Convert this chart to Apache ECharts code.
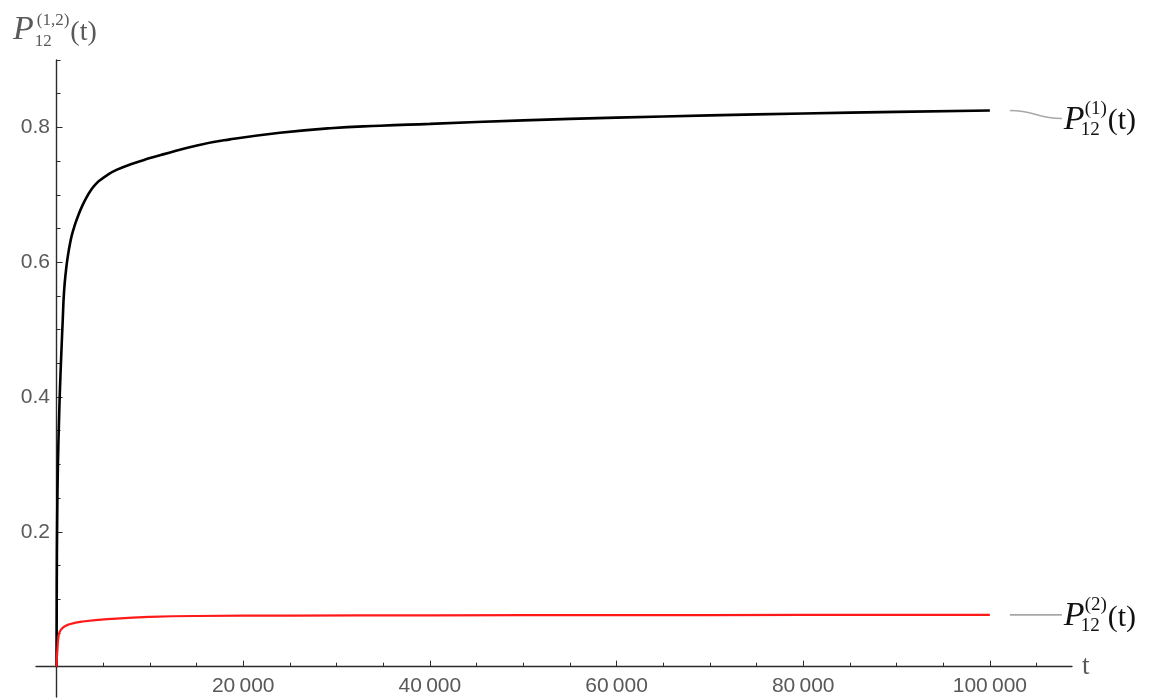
<!DOCTYPE html>
<html>
<head>
<meta charset="utf-8">
<title>P12 transition probabilities</title>
<script src="https://cdn.jsdelivr.net/npm/echarts@6/dist/echarts.min.js"></script>
<style>
  html, body { margin: 0; padding: 0; background: #ffffff; }
  #chart { width: 1155px; height: 698px; }
</style>
</head>
<body>
<div id="chart"></div>
<script>
// Sampled values of the two transition probabilities P12^(1)(t) and P12^(2)(t)
const t1 = [0, 25, 70, 150, 268, 375, 514, 664, 804, 1018, 1232, 1446, 1661, 1982, 2304, 2732, 3161, 3589, 4125, 4661, 5518, 6482, 7875, 10018, 11411, 15054, 18590, 23947, 29304, 34661, 40018, 50000, 60000, 70000, 80000, 90000, 100000];
const p1 = [0, 0.12, 0.22, 0.30, 0.366, 0.415, 0.465, 0.514, 0.5559, 0.5886, 0.6108, 0.6278, 0.6412, 0.6561, 0.6687, 0.6828, 0.6947, 0.7050, 0.7147, 0.7217, 0.7301, 0.7373, 0.7450, 0.7545, 0.7600, 0.7733, 0.7822, 0.7921, 0.7988, 0.8025, 0.8052, 0.8105, 0.8145, 0.8178, 0.8206, 0.8230, 0.8250];

const t2 = [0, 30, 100, 180, 320, 680, 1400, 2800, 6400, 10000, 15000, 25000, 40000, 60000, 80000, 100000];
const p2 = [0, 0.012, 0.026, 0.041, 0.051, 0.058, 0.063, 0.067, 0.0713, 0.0738, 0.0752, 0.0758, 0.0762, 0.0765, 0.0767, 0.0769];

// Axis ticks
const xMajor = [20000, 40000, 60000, 80000, 100000];
const xMinor = [5000, 10000, 15000, 25000, 30000, 35000, 45000, 50000, 55000, 65000, 70000, 75000, 85000, 90000, 95000, 105000];
const yMajor = [0.2, 0.4, 0.6, 0.8];
const yMinor = [0.05, 0.1, 0.15, 0.25, 0.3, 0.35, 0.45, 0.5, 0.55, 0.65, 0.7, 0.75, 0.85, 0.9];

const xRange = [-2200, 108800];
const yRange = [-0.045, 0.9];

const axisColor = '#2b2b2b';
const labelColor = '#595959';
const sansFont = '"Liberation Sans", Arial, sans-serif';
const serifFont = '"Liberation Serif", "Times New Roman", serif';

const zip = (xs, ys) => xs.map((x, i) => [x, ys[i]]);
const groupThousands = v => String(Math.round(v)).replace(/\B(?=(\d{3})+(?!\d))/g, '\u2009');

const chart = echarts.init(document.getElementById('chart'), null, { renderer: 'canvas' });

// Tick labels are laid out from the grid edge, so the margins pull them
// back next to the axis lines, which cross at the origin.
function valueAxis(range, major, minor, isX, withLabels) {
  const ticks = withLabels ? major : minor;
  return {
    type: 'value',
    min: range[0],
    max: range[1],
    position: isX ? 'bottom' : 'left',
    splitLine: { show: false },
    axisLine: {
      show: true,
      onZero: true,
      lineStyle: { color: axisColor, width: 1.4, opacity: withLabels ? 1 : 0 }
    },
    axisTick: {
      show: true,
      inside: true,
      length: withLabels ? 6 : 4,
      customValues: ticks,
      lineStyle: { color: axisColor, width: 1 }
    },
    axisLabel: {
      show: withLabels,
      customValues: major,
      margin: isX ? -21 : -14,
      color: labelColor,
      fontFamily: sansFont,
      fontSize: 21,
      formatter: isX ? groupThousands : (v => v.toFixed(1))
    },
    name: isX && withLabels ? 't' : '',
    nameLocation: 'end',
    nameGap: 10,
    nameTextStyle: { color: labelColor, fontFamily: serifFont, fontSize: 27, verticalAlign: 'middle' }
  };
}

chart.setOption({
  animation: false,
  backgroundColor: '#ffffff',
  grid: { left: 36, right: 83, top: 60, bottom: 1, containLabel: false, outerBoundsMode: 'none' },
  xAxis: [valueAxis(xRange, xMajor, xMinor, true, true), valueAxis(xRange, xMajor, xMinor, true, false)],
  yAxis: [valueAxis(yRange, yMajor, yMinor, false, true), valueAxis(yRange, yMajor, yMinor, false, false)],
  series: [
    {
      name: 'P12(1)',
      type: 'line',
      data: zip(t1, p1),
      showSymbol: false,
      smooth: 0.5,
      clip: true,
      lineStyle: { color: '#000000', width: 2.6 },
      itemStyle: { color: '#000000' }
    },
    {
      name: 'P12(2)',
      type: 'line',
      data: zip(t2, p2),
      showSymbol: false,
      smooth: 0.5,
      clip: true,
      lineStyle: { color: '#ff1a1a', width: 2.2 },
      itemStyle: { color: '#ff1a1a' }
    }
  ]
});

// Text measuring for placing the pieces of the formula labels
const measureCtx = document.createElement('canvas').getContext('2d');
function textWidth(text, font) {
  measureCtx.font = font;
  return measureCtx.measureText(text).width;
}

// Build a P_{12}^{(k)}(t) label out of separate text pieces, anchored at the
// left edge of the P and its baseline.
function probLabel(x, base, sup, color, F, f, Ft, subDx, supDx) {
  const mid = (b, size) => b - 0.34 * size;
  const common = { fill: color, textVerticalAlign: 'middle', textAlign: 'left' };
  const pFont = 'italic ' + F + 'px ' + serifFont;
  const sFont = f + 'px ' + serifFont;
  const tFont = Ft + 'px ' + serifFont;
  const pW = textWidth('P', pFont);
  const subX = x + pW + subDx;
  const supX = x + pW + supDx;
  const after = Math.max(subX + textWidth('12', sFont), supX + textWidth(sup, sFont)) + 1;
  return [
    { type: 'text', style: Object.assign({ x: x, y: mid(base, F), text: 'P', font: pFont }, common) },
    { type: 'text', style: Object.assign({ x: supX, y: mid(base - 0.47 * F, f), text: sup, font: sFont }, common) },
    { type: 'text', style: Object.assign({ x: subX, y: mid(base + 0.15 * F, f), text: '12', font: sFont }, common) },
    { type: 'text', style: Object.assign({ x: after, y: mid(base, Ft), text: '(t)', font: tFont }, common) }
  ];
}

// Axis title at the top of the vertical axis
const graphics = [].concat(probLabel(13, 42, '(1,2)', labelColor, 34, 17, 28, 1, 3));

// Callout labels at the right-hand end of each curve
const end1 = chart.convertToPixel({ gridIndex: 0 }, [t1[t1.length - 1], p1[p1.length - 1]]);
const end2 = chart.convertToPixel({ gridIndex: 0 }, [t2[t2.length - 1], p2[p2.length - 1]]);

function callout(end, drop, sup) {
  const x1 = end[0] + 20, y1 = end[1];
  const x2 = end[0] + 72, y2 = end[1] + drop;
  return [{
    type: 'bezierCurve',
    shape: { x1: x1, y1: y1, x2: x2, y2: y2, cpx1: (x1 + x2) / 2, cpy1: y1, cpx2: (x1 + x2) / 2, cpy2: y2 },
    style: { stroke: '#a8a8a8', lineWidth: 1.6, fill: null }
  }].concat(probLabel(x2 + 2, y2 + 13, sup, '#111111', 34, 19, 30, -4, 0));
}

graphics.push(...callout(end1, 8, '(1)'));
graphics.push(...callout(end2, 0, '(2)'));

chart.setOption({ graphic: graphics.map(g => Object.assign({ silent: true }, g)) });
</script>
</body>
</html>
